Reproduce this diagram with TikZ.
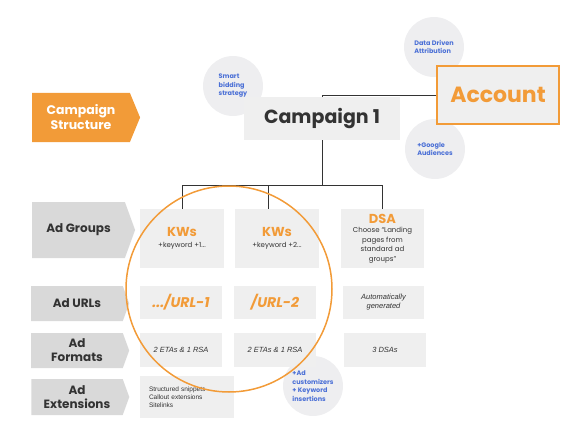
\documentclass[tikz,border=0pt]{standalone}
\usepackage{fontspec}
\setmainfont{Poppins}
\newfontfamily\arialf{Liberation Sans}
\usetikzlibrary{calc,shapes.symbols}
\definecolor{orng}{HTML}{F29B38}
\definecolor{cellgray}{HTML}{EFEFEF}
\definecolor{labgray}{HTML}{D9D9D9}
\definecolor{bubgray}{HTML}{EEEEF0}
\definecolor{blu}{HTML}{4A6FD6}
\definecolor{ink}{HTML}{333333}
\tikzset{
  rowLab/.style={shape=signal, signal to=east, signal pointer angle=140, fill=labgray, text=ink,
    font=\bfseries\fontsize{12}{14}\selectfont, align=center, inner sep=0pt, minimum width=98pt},
  cellBox/.style={fill=cellgray, inner sep=0pt, align=center, text=ink},
  bubble/.style={circle, fill=bubgray, minimum size=60pt, inner sep=0pt, text=blu,
    font=\bfseries\fontsize{6.5}{8.5}\selectfont, align=left},
  treeLine/.style={draw=ink, line width=0.8pt},
  itSmall/.style={font=\arialf\itshape\fontsize{7.5}{9}\selectfont},
  urlTxt/.style={text=orng, font=\bfseries\itshape\fontsize{14}{16}\selectfont}
}
\newcommand{\kwhead}[1]{{\color{orng}\bfseries\fontsize{13}{15}\selectfont #1}}
\begin{document}
\begin{tikzpicture}[x=1pt, y=-1pt]
\useasboundingbox (0,0) rectangle (576,436);
% bubbles behind everything
\node[bubble] (smart) at (233,86) {Smart\\bidding\\strategy};
\node[bubble] (dda) at (434,47) {Data Driven\\Attribution};
\node[bubble] (aud) at (435,149) {+Google\\Audiences};
\node[bubble] (cust) at (313,386) {+Ad\\customizers\\+ Keyword\\insertions};

% top row
\node[shape=signal, signal to=east, signal pointer angle=135, fill=orng, text=white,
  font=\bfseries\fontsize{12.5}{15}\selectfont, align=center, inner sep=0pt,
  minimum width=108pt, minimum height=49pt] (cs) at (81,117.5) {Campaign\\Structure};
\node[cellBox, minimum width=156pt, minimum height=43pt, font=\bfseries\fontsize{19}{23}\selectfont] (camp) at (322,118.5) {Campaign 1};
\node[cellBox, draw=orng, line width=1.3pt, minimum width=122pt, minimum height=58pt,
  text=orng, font=\bfseries\fontsize{22}{26}\selectfont] (acct) at (498,95) {Account};
\draw[treeLine] (acct.west) -| (camp.north);

% row labels
\node[rowLab, minimum width=103pt, minimum height=56pt] (lgrp) at (78.5,230) {Ad Groups};
\node[rowLab, minimum height=35pt] (lurl) at (77,303.5) {Ad URLs};
\node[rowLab, minimum height=35pt] (lfmt) at (77,350.5) {Ad\\Formats};
\node[rowLab, minimum height=36pt] (lext) at (77,397) {Ad\\Extensions};

% ad group columns
\node[cellBox, minimum width=84pt, minimum height=59pt, font=\fontsize{7}{9}\selectfont] (kw1) at (182,238.5)
  {\kwhead{KWs}\\[2pt]+keyword +1...};
\node[cellBox, minimum width=84pt, minimum height=59pt, font=\fontsize{7}{9}\selectfont] (kw2) at (277,238.5)
  {\kwhead{KWs}\\[2pt]+keyword +2...};
\node[cellBox, minimum width=83pt, minimum height=59pt, font=\fontsize{7}{9.5}\selectfont] (dsa) at (382.5,238.5)
  {\kwhead{DSA}\\Choose “Landing\\pages from\\standard ad\\groups”};

\node[cellBox, minimum width=82pt, minimum height=33pt, urlTxt] (url1) at (181,302.5) {.../URL-1};
\node[cellBox, minimum width=82pt, minimum height=33pt, urlTxt] (url2) at (275,302.5) {/URL-2};
\node[cellBox, minimum width=81pt, minimum height=33pt, itSmall] (auto) at (383.5,302.5) {Automatically\\generated};

\node[cellBox, minimum width=82pt, minimum height=34pt, itSmall] (fmt1) at (181,350) {2 ETAs \& 1 RSA};
\node[cellBox, minimum width=82pt, minimum height=34pt, itSmall] (fmt2) at (275,350) {2 ETAs \& 1 RSA};
\node[cellBox, minimum width=82pt, minimum height=34pt, itSmall] (dsas) at (385,350) {3 DSAs};

\node[cellBox, minimum width=94pt, minimum height=42pt, text width=76pt, align=left, inner xsep=9pt,
  font=\arialf\fontsize{6.5}{8}\selectfont] (ext1) at (187,397)
  {Structured snippets\\Callout extensions\\Sitelinks};

% tree lines
\coordinate (bus) at (322,185);
\draw[treeLine] (camp.south) -- (bus);
\draw[treeLine] (bus) -| (kw1.north);
\draw[treeLine] (bus) -| ($(kw2.north)+(-9,0)$);
\draw[treeLine] (bus) -| (dsa.north);

% highlight ring
\draw[orng, line width=1.5pt] (229,289) circle (103);
\end{tikzpicture}
\end{document}
